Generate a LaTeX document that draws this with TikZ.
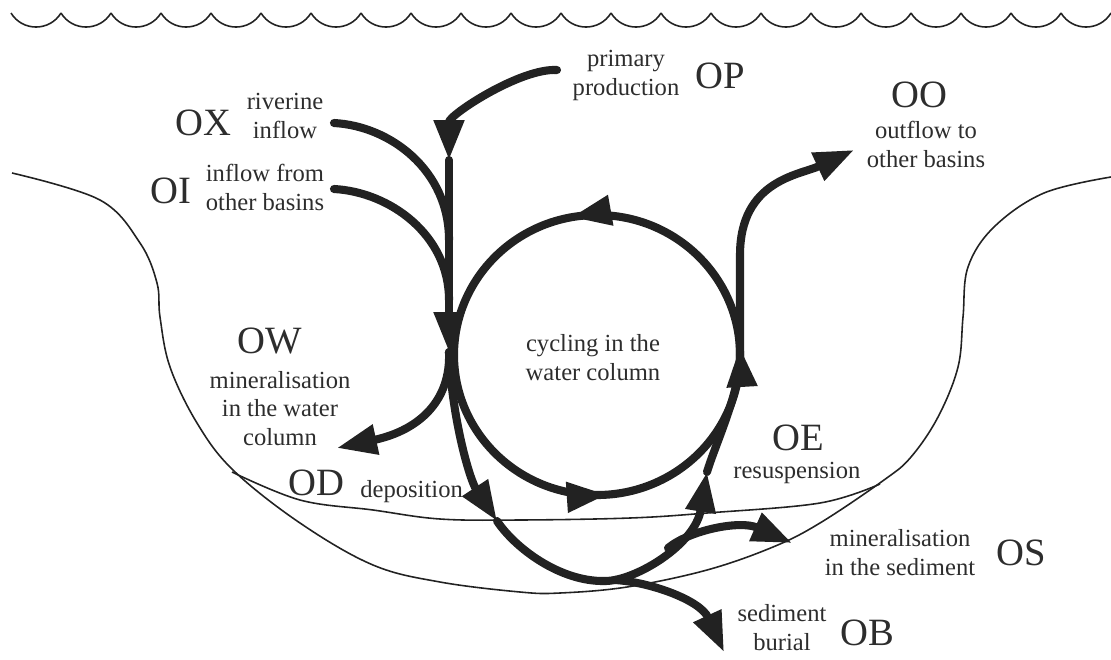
\documentclass[tikz,border=0pt]{standalone}
\usepackage{fontspec}
\setmainfont{Liberation Serif}
\usepackage{tikz}
\usetikzlibrary{arrows.meta,decorations.markings}
\definecolor{inkgray}{RGB}{34,34,34}
\definecolor{textgray}{RGB}{45,45,45}

\begin{document}
\begin{tikzpicture}[
    x=0.02cm, y=-0.02cm,
    bigtip/.tip={Triangle[length=0.8cm, width=0.58cm]},
    flow/.style={draw=inkgray, line width=4.6pt, line cap=round},
    flowtip/.style={flow, -bigtip},
    thinline/.style={draw=inkgray, line width=0.9pt},
    lbl/.style={font=\fontsize{22}{26}\selectfont, text=textgray, inner sep=0pt, anchor=base west},
    desc/.style={font=\fontsize{14}{16}\selectfont, text=textgray, inner sep=0pt, align=center, anchor=base},
]
    \useasboundingbox (0,0) rectangle (1111,659);
    % Water surface
    \foreach \k in {0,...,21} {
        \pgfmathsetmacro{\wx}{11 + 50*\k}
        \draw[thinline] (\wx,13) .. controls (\wx+11.4,31.7) and (\wx+38.6,31.7) .. (\wx+50,13);
    }
    % Basin and sediment surface
    \draw[thinline] plot[smooth, tension=0.6] coordinates {
        (12,173) (100,200) (140,243) (157,283) (160,317) (170,367) (197,423) (233,470)
        (300,523) (373,565) (440,582) (520,592) (560,593) (627,587) (707,570) (773,547)
        (820,523) (884,480) (911,457) (938,417) (958,367) (963,317) (968,267) (994,227)
        (1044,193) (1111,177)};
    \draw[thinline] plot[smooth, tension=0.6] coordinates {
        (232,472) (300,500) (373,510) (440,519) (520,520) (630,518) (707,513) (820,503) (880,484)};
    % Junctions
    \coordinate (opS) at (557,70);
    \coordinate (opT) at (449,160);
    \coordinate (oxS) at (334,123);
    \coordinate (oxE) at (449,240);
    \coordinate (oiS) at (334,189);
    \coordinate (oiE) at (449,300);
    \coordinate (trunk) at (449,352);
    \coordinate (cL) at (454,355);
    \coordinate (cR) at (740,355);
    \coordinate (ooB) at (740,255);
    \coordinate (ooT) at (854,150);
    \coordinate (owT) at (337,448);
    \coordinate (dpT) at (497,521);
    \coordinate (low) at (605,581);
    \coordinate (osS) at (668,548);
    \coordinate (osT) at (792,543);
    \coordinate (rsT) at (707,472);
    \coordinate (obS) at (615,580);
    \coordinate (obT) at (724,652);
    % Inflows
    \draw[flowtip] (opS) .. controls (520,68) and (449,115) .. (opT);
    \draw[flow] (oxS) .. controls (390,126) and (449,170) .. (oxE);
    \draw[flow] (oiS) .. controls (390,192) and (449,235) .. (oiE);
    \draw[flowtip] (opT) -- (trunk);
    % Cycling in the water column
    \draw[flow, postaction={decorate}, decoration={markings,
        mark=at position 0.261 with {\arrow{bigtip}},
        mark=at position 0.509 with {\arrow{bigtip}},
        mark=at position 0.779 with {\arrow{bigtip}}}]
        (cL) arc[start angle=180, end angle=-180, x radius=143, y radius=140];
    % Outflow
    \draw[flowtip] (cR) -- (ooB) .. controls (740,180) and (800,175) .. (ooT);
    % Mineralisation and deposition
    \draw[flowtip] (trunk) .. controls (451,400) and (420,430) .. (owT);
    \draw[flowtip] (trunk) .. controls (452,420) and (470,480) .. (dpT);
    \draw[flowtip] (dpT) .. controls (515,548) and (560,582) .. (low)
        .. controls (635,581) and (695,545) .. (rsT);
    \draw[flow] (rsT) .. controls (715,445) and (741,390) .. (cR);
    \draw[flowtip] (osS) .. controls (690,530) and (740,520) .. (osT);
    \draw[flowtip] (obS) .. controls (650,582) and (700,600) .. (obT);
    % Labels
    \node[lbl] (OX) at (175,135) {OX};
    \node[desc] (OXt) at (285,138) {riverine\\inflow};
    \node[lbl] (OI) at (150,203) {OI};
    \node[desc] (OIt) at (265,210) {inflow from\\other basins};
    \node[desc] (OPt) at (626,95) {primary\\production};
    \node[lbl] (OP) at (695,88) {OP};
    \node[lbl] (OO) at (891,107) {OO};
    \node[desc] (OOt) at (926,167) {outflow to\\other basins};
    \node[desc] (cyc) at (593,380) {cycling in the\\water column};
    \node[lbl] (OW) at (237,353) {OW};
    \node[desc] (OWt) at (280,445) {mineralisation\\in the water\\column};
    \node[lbl] (OD) at (288,495) {OD};
    \node[desc, anchor=base west] (ODt) at (360,497) {deposition};
    \node[lbl] (OE) at (772,450) {OE};
    \node[desc, anchor=base west] (OEt) at (733,478) {resuspension};
    \node[desc] (OSt) at (900,575) {mineralisation\\in the sediment};
    \node[lbl] (OS) at (996,565) {OS};
    \node[desc] (OBt) at (782,650) {sediment\\burial};
    \node[lbl] (OB) at (840,645) {OB};
\end{tikzpicture}
\end{document}
